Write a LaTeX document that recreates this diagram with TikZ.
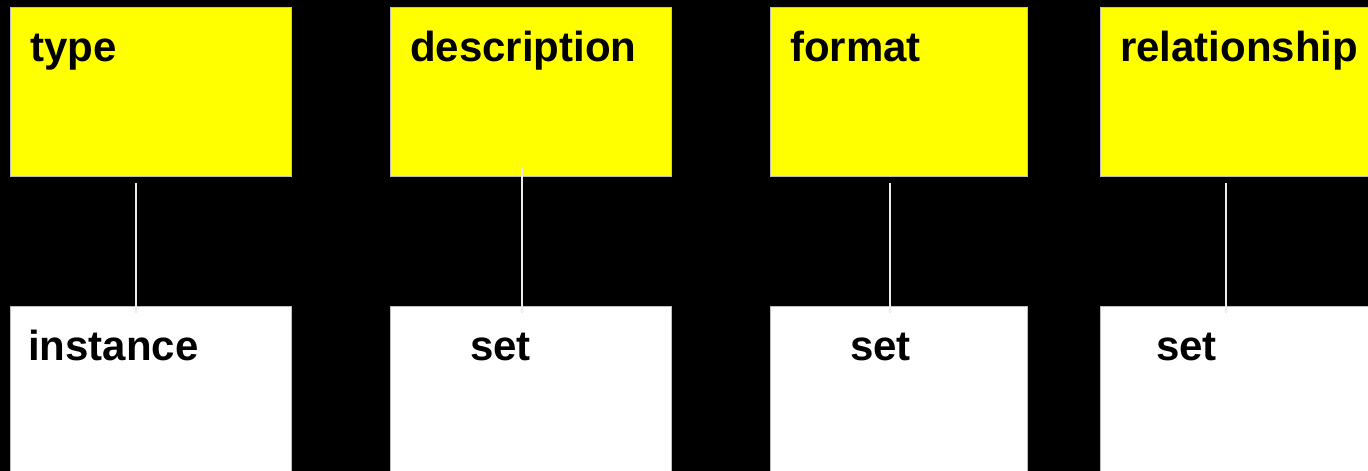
\documentclass[tikz,border=0pt]{standalone}
\usepackage{fontspec}
\setmainfont{Liberation Sans}
\definecolor{boxyellow}{RGB}{255,255,0}
\definecolor{edgegray}{RGB}{190,190,190}
\tikzset{
  topbox/.style={draw=edgegray, line width=1pt, fill=boxyellow, anchor=north west,
    minimum width=281pt, minimum height=169pt, inner sep=0pt},
  lowbox/.style={draw=edgegray, line width=1pt, fill=white, anchor=north west,
    minimum width=281pt, minimum height=200pt, inner sep=0pt},
  word/.style={anchor=base west, inner sep=0pt, font=\fontsize{42}{50}\selectfont\bfseries},
  link/.style={draw=edgegray!30, line width=1.5pt}
}
\begin{document}
\begin{tikzpicture}[x=1pt,y=1pt]
  \fill [black] (0,0) rectangle (1368,471);
  \useasboundingbox (0,0) rectangle (1368,471);
  \clip (0,0) rectangle (1368,471);
  % upper row
  \node [topbox] (type) at (9.5,463.5) {};
  \node [topbox] (description) at (389.5,463.5) {};
  \node [topbox, minimum width=257.5pt] (format) at (769.5,463.5) {};
  \node [topbox] (relationship) at (1100,463.5) {};
  \node [word] (typetext) at (30,409) {type};
  \node [word] (desctext) at (410,409) {description};
  \node [word] (formattext) at (790,409) {format};
  \node [word] (reltext) at (1120,409) {relationship};
  % lower row
  \node [lowbox] (instance) at (9.5,165.3) {};
  \node [lowbox] (descset) at (389.5,165.3) {};
  \node [lowbox, minimum width=257.5pt] (formatset) at (769.5,165.3) {};
  \node [lowbox] (relset) at (1100,165.3) {};
  \node [word] (instancetext) at (28,110.3) {instance};
  \node [word] (descsettext) at (470,110.3) {set};
  \node [word] (formatsettext) at (850,110.3) {set};
  \node [word] (relsettext) at (1156,110.3) {set};
  % links
  \coordinate (typefoot) at (136,288);
  \coordinate (descfoot) at (522,303);
  \coordinate (formatfoot) at (890,288);
  \coordinate (relfoot) at (1226,288);
  \draw [link] (typefoot) -- ([yshift=-7pt]typefoot |- instance.north);
  \draw [link] (descfoot) -- ([yshift=-7pt]descfoot |- descset.north);
  \draw [link] (formatfoot) -- ([yshift=-7pt]formatfoot |- formatset.north);
  \draw [link] (relfoot) -- ([yshift=-7pt]relfoot |- relset.north);
\end{tikzpicture}
\end{document}
